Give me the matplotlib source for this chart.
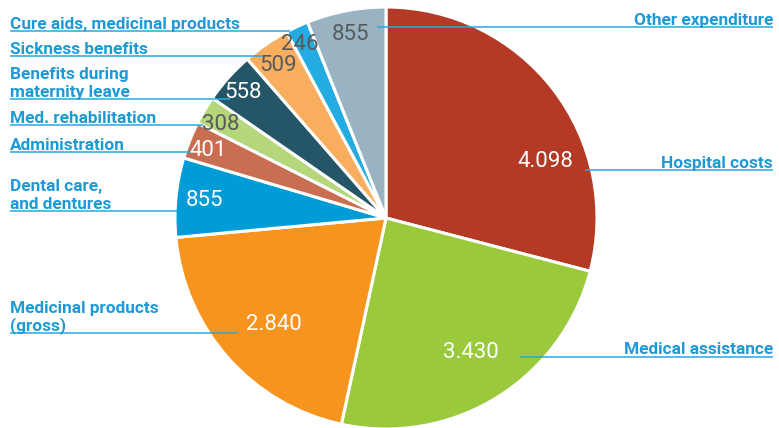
import matplotlib
matplotlib.use('Agg')
import matplotlib.pyplot as plt

# Health expenditure by category (clockwise from the top)
categories = ['Hospital costs', 'Medical assistance', 'Medicinal products\n(gross)',
              'Dental care,\nand dentures', 'Administration', 'Med. rehabilitation',
              'Benefits during\nmaternity leave', 'Sickness benefits',
              'Cure aids, medicinal products', 'Other expenditure']
values = [4098, 3430, 2840, 855, 401, 308, 558, 509, 246, 855]
colors = ['#B53A25', '#9ACA3C', '#F7941E', '#009CD8', '#C96E50',
          '#B5D67A', '#245668', '#F9AE5F', '#22ACE2', '#9AB3C3']
value_colors = ['white', 'white', 'white', 'white', 'white',
                '#5A5A5A', 'white', '#5A5A5A', '#5A5A5A', '#5A5A5A']

# layout in pixel coordinates (y measured from the top)
W, H = 779, 428
center = (386, 218)
radius = 211
value_pos = [(545, 161), (471, 352), (274, 325), (205, 200), (208, 150),
             (221, 124), (243, 92), (278, 65), (300, 44), (351, 34)]
# side, underline y, inner end of leader line
label_side = ['right', 'right', 'left', 'left', 'left', 'left', 'left', 'left', 'left', 'right']
label_line_y = [170, 357, 333, 211, 152, 125, 99, 56, 31, 27]
label_line_end = [585, 520, 238, 177, 193, 203, 230, 263, 290, 377]

LABEL_COLOR = '#1D9AD6'
LINE_COLOR = '#29A8DF'

fig = plt.figure(figsize=(W / 100, H / 100), dpi=100)
ax = fig.add_axes([0, 0, 1, 1])


def fy(y):
    return H - y


ax.pie(values, colors=colors, startangle=90, counterclock=False,
       center=(center[0], fy(center[1])), radius=radius,
       wedgeprops=dict(edgecolor='white', linewidth=2.2))

for (x, y), v, c in zip(value_pos, values, value_colors):
    txt = f'{v:,}'.replace(',', '.')
    ax.text(x, fy(y), txt, color=c, fontsize=16, family='Roboto',
            ha='center', va='center')

for name, side, ly, lend in zip(categories, label_side, label_line_y, label_line_end):
    lines = name.split('\n')
    if side == 'left':
        x0, x1, tx, ha = 10, lend, 10, 'left'
    else:
        x0, x1, tx, ha = lend, 773, 773, 'right'
    ax.plot([x0, x1], [fy(ly), fy(ly)], color=LINE_COLOR, lw=1.3, alpha=0.85,
            solid_capstyle='butt')
    for i, line in enumerate(reversed(lines)):
        ax.text(tx, fy(ly - 2.5 - 18 * i), line, color=LABEL_COLOR, fontsize=12.4,
                family='Roboto', fontweight='bold', ha=ha, va='baseline')

ax.set_xlim(0, W)
ax.set_ylim(0, H)
ax.set_aspect('equal')
ax.axis('off')

fig.savefig('out.png', dpi=100, facecolor='white')
